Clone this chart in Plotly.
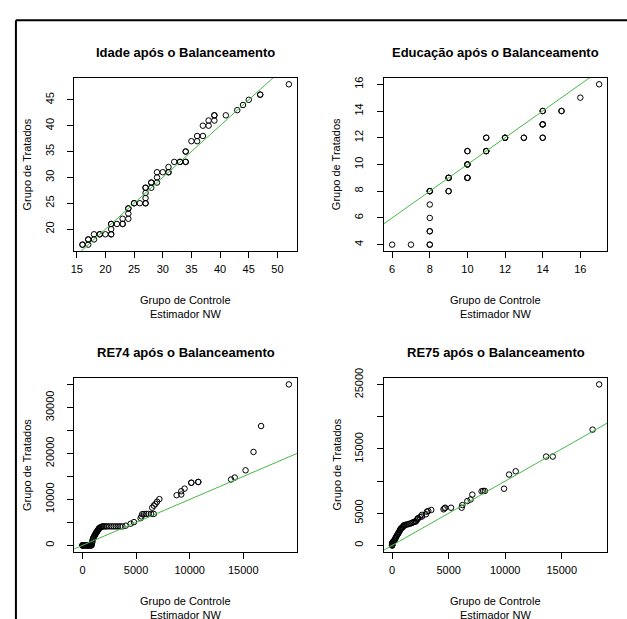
import plotly.graph_objects as go

# ---------------- data (QQ pairs: control quantile, treated quantile) ----------------
age_ctrl = [16, 16, 17, 17, 17, 18, 18, 19, 19, 20, 21, 21, 21, 21, 21, 22, 23, 23, 23, 24, 24, 24, 24,
            25, 25, 26, 27, 27, 27, 27, 27, 27, 28, 28, 28, 29, 29, 29, 30, 31, 31, 31, 32, 33, 33, 34, 34,
            34, 34, 35, 36, 36, 37, 37, 38, 38, 39, 39, 39, 41, 43, 44, 45, 47, 47, 52]
age_treat = [17, 17, 17, 18, 18, 18, 19, 19, 19, 19, 19, 19, 20, 21, 21, 21, 21, 21, 22, 22, 23, 24, 24,
             25, 25, 25, 25, 25, 26, 27, 28, 28, 28, 29, 29, 29, 30, 31, 31, 31, 31, 32, 33, 33, 33, 33, 33,
             35, 35, 37, 37, 38, 38, 40, 40, 41, 41, 42, 42, 42, 43, 44, 45, 46, 46, 48]

educ_ctrl = [6, 7, 8, 8, 8, 8, 8, 8, 8, 8, 8, 9, 9, 9, 9, 9, 10, 10, 10, 10, 10, 10, 10, 10,
             11, 11, 11, 11, 11, 12, 12, 12, 13, 13, 14, 14, 14, 14, 14, 14, 14, 15, 15, 16, 17]
educ_treat = [4, 4, 4, 4, 5, 5, 6, 7, 8, 8, 8, 8, 8, 9, 9, 9, 9, 9, 9, 10, 10, 10, 11, 11,
              11, 11, 11, 12, 12, 12, 12, 12, 12, 12, 12, 12, 13, 13, 13, 14, 14, 14, 14, 15, 16]

re74_ctrl = [0, 0, 0, 0, 50, 100, 150, 200, 250, 300, 350, 400, 450, 500, 550, 600, 650, 700, 750, 800, 850,
             880, 900, 930, 950, 1000, 1050, 1100, 1140, 1180, 1220, 1260, 1300, 1330, 1370, 1410, 1450,
             1490, 1530, 1570, 1630, 1700, 1780, 1875, 2000, 2150, 2300, 2500, 2700, 2900, 3100, 3300,
             3500, 3720, 4030, 4490, 4800, 5420, 5500, 5570, 5750, 5950, 6150, 6400, 6650, 6500, 6650,
             6800, 6960, 7170, 8780, 9210, 9210, 9520, 10150, 10150, 10800, 10800, 13860, 14200, 15210,
             15950, 16660, 19250]
re74_treat = [0, 0, 0, 0, 0, 0, 0, 0, 0, 0, 0, 0, 0, 0, 0, 0, 0, 0, 0, 0, 0,
              300, 600, 950, 1290, 1600, 1800, 2000, 2200, 2350, 2500, 2700, 2850, 2950, 3050, 3200, 3350,
              3500, 3650, 3770, 3870, 3950, 4050, 4130, 4130, 4130, 4130, 4130, 4130, 4130, 4130, 4130,
              4130, 4130, 4290, 4710, 5060, 5920, 6300, 6780, 6840, 6840, 6840, 6840, 6840, 8200, 8640,
              9000, 9500, 10070, 10920, 11070, 11780, 12350, 13630, 13630, 13800, 13800, 14340, 14770, 16340,
              20340, 25980, 35040]

re75_ctrl = [0, 0, 0, 0, 0, 0, 50, 100, 150, 200, 250, 290, 330, 380, 440, 500, 550, 600, 650, 700, 730,
             780, 820, 900, 950, 1000, 1030, 1100, 1200, 1330, 1465, 1600, 1700, 1800, 1900, 2000, 2110,
             2200, 2260, 2285, 2450, 2640, 2640, 2990, 3080, 3200, 3460, 4540, 4630, 4690, 5210, 6150,
             6210, 6650, 6940, 7090, 7910, 8050, 8200, 9900, 10340, 10930, 13620, 14210, 17730, 18310]
re75_treat = [0, 0, 0, 100, 250, 400, 500, 600, 660, 800, 900, 1100, 1250, 1400, 1600, 1750, 1900, 2050,
              2200, 2400, 2500, 2600, 2700, 2800, 2850, 3000, 3110, 3150, 3200, 3270, 3310, 3400, 3460,
              3550, 3620, 3680, 3720, 4000, 4130, 4230, 4400, 4490, 4750, 4840, 5250, 5350, 5510, 5610,
              5760, 5860, 5860, 5860, 6270, 6890, 7140, 7900, 8420, 8470, 8470, 8820, 11020, 11530, 13820,
              13820, 18010, 25050]

titles = ["Idade após o Balanceamento", "Educação após o Balanceamento",
          "RE74 após o Balanceamento", "RE75 após o Balanceamento"]
x_ticks = [[15, 20, 25, 30, 35, 40, 45, 50], [6, 8, 10, 12, 14, 16],
           [0, 5000, 10000, 15000], [0, 5000, 10000, 15000]]
y_ticks = [[20, 25, 30, 35, 40, 45], [4, 6, 8, 10, 12, 14, 16],
           [0, 5000, 10000, 15000, 20000, 25000, 30000, 35000],
           [0, 5000, 10000, 15000, 20000, 25000]]
y_ticktext = [[str(v) for v in y_ticks[0]], [str(v) for v in y_ticks[1]],
              ["0", "", "10000", "", "20000", "", "30000", ""],
              ["0", "5000", "", "15000", "", "25000"]]
x_label = "Grupo de Controle"
x_label2 = "Estimador NW"
y_label = "Grupo de Tratados"

# ---------------- layout geometry (pixels) ----------------
W, H = 627, 619
boxes = [(70.7, 295.0, 69.0, 245.0), (382.3, 607.3, 69.0, 245.0),
         (70.7, 295.0, 374.0, 550.7), (382.3, 607.3, 374.0, 550.7)]
FONT = "Liberation Sans, Arial, Helvetica, sans-serif"
GREEN = "rgb(70,185,70)"


def px(x):
    return x / W


def py(y):
    return 1 - y / H


def rng(vals):
    lo, hi = min(vals), max(vals)
    d = (hi - lo) * 0.04
    return [lo - d, hi + d]


data = [(age_ctrl, age_treat), (educ_ctrl, educ_treat), (re74_ctrl, re74_treat), (re75_ctrl, re75_treat)]

fig = go.Figure()
annotations = []
shapes = []
layout_axes = {}
for i, ((xs, ys), (l, r, t, b)) in enumerate(zip(data, boxes)):
    n = "" if i == 0 else str(i + 1)
    xr, yr = rng(xs), rng(ys)
    fig.add_trace(go.Scatter(
        x=xs, y=ys, mode="markers", xaxis="x" + n, yaxis="y" + n,
        marker=dict(symbol="circle-open", size=5.5, color="black", line=dict(width=1, color="black")),
        showlegend=False, hoverinfo="skip"))
    lo, hi = min(xr[0], yr[0]), max(xr[1], yr[1])
    fig.add_trace(go.Scatter(
        x=[lo, hi], y=[lo, hi], mode="lines", xaxis="x" + n, yaxis="y" + n,
        line=dict(color=GREEN, width=1), showlegend=False, hoverinfo="skip"))
    common = dict(showgrid=False, zeroline=False, showline=True, mirror=True, linecolor="black",
                  linewidth=1, ticks="outside", ticklen=6, tickcolor="black", tickwidth=1,
                  tickfont=dict(family=FONT, size=11, color="black"), tickmode="array")
    layout_axes["xaxis" + n] = dict(domain=[px(l), px(r)], anchor="y" + n, range=xr,
                                    tickvals=x_ticks[i], ticktext=[str(v) for v in x_ticks[i]],
                                    ticklabelstandoff=2, **common)
    layout_axes["yaxis" + n] = dict(domain=[py(b), py(t)], anchor="x" + n, range=yr,
                                    tickvals=y_ticks[i], ticktext=y_ticktext[i], tickangle=-90,
                                    ticklabelstandoff=9, **common)
    cx = (l + r) / 2
    annotations.append(dict(x=px(cx), y=py(t - 26), xref="paper", yref="paper", text="<b>%s</b>" % titles[i],
                            showarrow=False, xanchor="center", yanchor="middle",
                            font=dict(family=FONT, size=13, color="black")))
    annotations.append(dict(x=px(cx), y=py(b + 50), xref="paper", yref="paper", text=x_label,
                            showarrow=False, xanchor="center", yanchor="middle",
                            font=dict(family=FONT, size=11, color="black")))
    annotations.append(dict(x=px(cx), y=py(b + 64), xref="paper", yref="paper", text=x_label2,
                            showarrow=False, xanchor="center", yanchor="middle",
                            font=dict(family=FONT, size=11, color="black")))
    annotations.append(dict(x=px(l - 47.5), y=py((t + b) / 2), xref="paper", yref="paper", text=y_label,
                            showarrow=False, xanchor="center", yanchor="middle", textangle=-90,
                            font=dict(family=FONT, size=11, color="black")))

# outer frame (partially visible)
shapes.append(dict(type="line", xref="paper", yref="paper", x0=px(12), x1=px(640), y0=py(10.5), y1=py(10.5),
                   line=dict(color="black", width=2)))
shapes.append(dict(type="line", xref="paper", yref="paper", x0=px(12), x1=px(12), y0=py(10.5), y1=py(640),
                   line=dict(color="black", width=2)))

fig.update_layout(width=W, height=H, margin=dict(l=0, r=0, t=0, b=0), plot_bgcolor="white",
                  paper_bgcolor="white", annotations=annotations, shapes=shapes,
                  font=dict(family=FONT, color="black"), **layout_axes)
fig.write_html("out.html")
